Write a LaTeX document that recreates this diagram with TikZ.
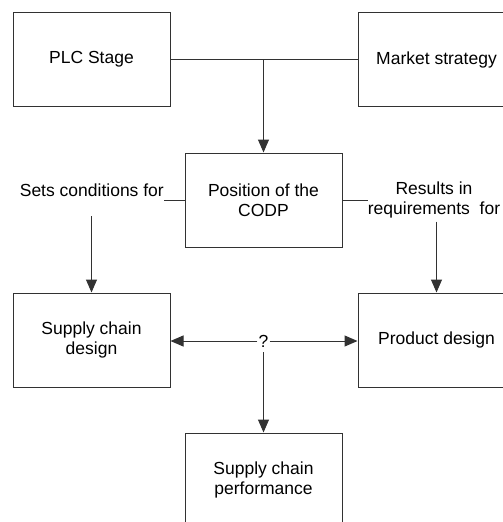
\documentclass[tikz,border=0pt]{standalone}
\usepackage{fontspec}
\setmainfont{Liberation Sans}
\definecolor{lineGray}{RGB}{50,50,50}
\usetikzlibrary{arrows.meta, positioning, calc}

\begin{document}
\begin{tikzpicture}[x=1pt, y=-1pt, font=\fontsize{17.5}{20.5}\selectfont,
    box/.style={draw=lineGray, line width=1pt, minimum width=157pt, minimum height=94pt, align=center, inner sep=0pt},
    lbl/.style={inner sep=0pt, align=center},
    con/.style={draw=lineGray, line width=1pt},
    arr/.style={con, -{Triangle[length=13pt, width=11pt]}}]
        \useasboundingbox (0,0) rectangle (503,522);
        % top row
        \node[box] (plc)    at (91.5,59.5)  {PLC Stage};
        \node[box] (market) at (436.5,59.5) {Market strategy};
        \node[box] (codp)   at (263.5,200)  {Position of the\\CODP};
        % middle row
        \node[box] (scd) at (91.5,340)  {Supply chain\\design};
        \node[box] (pd)  at (436.5,340) {Product design};
        \node[box] (scp) at (263.5,480) {Supply chain\\performance};
        % labels
        \node[lbl, anchor=base east] (sets) at (164,196) {Sets conditions for};
        \node[lbl] (res) at (434,200) {Results in\\requirements\ \ for};
        \node[inner xsep=1pt, inner ysep=5pt] (q) at (263.5,341) {?};
        \coordinate (join)     at (plc.east -| codp.north);
        \coordinate (setsfoot) at ($(sets.south -| scd.north)+(0,20)$);
        \coordinate (resfoot)  at ($(res.south -| pd.north)+(0,3)$);
        % connectors
        \draw[con] (plc) -- (market);
        \draw[arr] (join) -- (codp);
        \draw[con] (codp.west) -- (codp.west -| sets.east);
        \draw[arr] (setsfoot) -- (scd.north);
        \draw[con] (codp.east) -- (res.west);
        \draw[arr] (resfoot) -- (pd.north);
        \draw[arr] (q.west) -- (q.west -| scd.east);
        \draw[arr] (q.east) -- (q.east -| pd.west);
        \draw[arr] (q) -- (scp);
      \end{tikzpicture}
\end{document}
